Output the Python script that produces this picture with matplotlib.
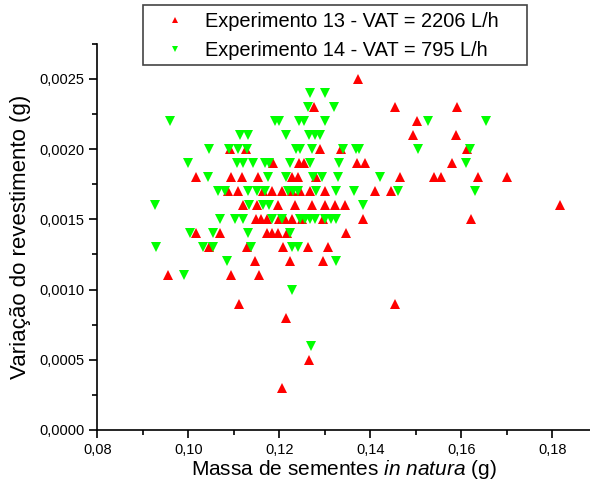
import matplotlib.pyplot as plt
from matplotlib.patches import Rectangle
from matplotlib.ticker import MultipleLocator, FuncFormatter

plt.rcParams["font.family"] = ["Liberation Sans", "DejaVu Sans"]
plt.rcParams["mathtext.fontset"] = "custom"
plt.rcParams["mathtext.rm"] = "Liberation Sans"
plt.rcParams["mathtext.it"] = "Liberation Sans:italic"

# Experimento 13 - VAT = 2206 L/h
exp13_x = [0.1374,
           0.1277, 0.1454, 0.1591,
           0.1502,
           0.1494, 0.1588,
           0.1092, 0.1127, 0.1290, 0.1335, 0.1613,
           0.1187, 0.1244, 0.1254, 0.1370, 0.1388, 0.1579,
           0.1017, 0.1093, 0.1117, 0.1154, 0.1227, 0.1240, 0.1280, 0.1465, 0.1541, 0.1555, 0.1636, 0.1701,
           0.1088, 0.1110, 0.1165, 0.1183, 0.1207, 0.1227, 0.1246, 0.1267, 0.1300, 0.1410, 0.1445,
           0.1121, 0.1150, 0.1198, 0.1234, 0.1271, 0.1300, 0.1322, 0.1344, 0.1817,
           0.1148, 0.1160, 0.1172, 0.1200, 0.1213, 0.1227, 0.1250, 0.1297, 0.1383, 0.1621,
           0.1017, 0.1070, 0.1172, 0.1185, 0.1198, 0.1218, 0.1346,
           0.1046, 0.1130, 0.1209, 0.1264, 0.1306,
           0.1147, 0.1224, 0.1297,
           0.0955, 0.1093, 0.1156,
           0.1111, 0.1454,
           0.1215,
           0.1266,
           0.1205]
exp13_y = [0.0025,
           0.0023, 0.0023, 0.0023,
           0.0022,
           0.0021, 0.0021,
           0.0020, 0.0020, 0.0020, 0.0020, 0.0020,
           0.0019, 0.0019, 0.0019, 0.0019, 0.0019, 0.0019,
           0.0018, 0.0018, 0.0018, 0.0018, 0.0018, 0.0018, 0.0018, 0.0018, 0.0018, 0.0018, 0.0018, 0.0018,
           0.0017, 0.0017, 0.0017, 0.0017, 0.0017, 0.0017, 0.0017, 0.0017, 0.0017, 0.0017, 0.0017,
           0.0016, 0.0016, 0.0016, 0.0016, 0.0016, 0.0016, 0.0016, 0.0016, 0.0016,
           0.0015, 0.0015, 0.0015, 0.0015, 0.0015, 0.0015, 0.0015, 0.0015, 0.0015, 0.0015,
           0.0014, 0.0014, 0.0014, 0.0014, 0.0014, 0.0014, 0.0014,
           0.0013, 0.0013, 0.0013, 0.0013, 0.0013,
           0.0012, 0.0012, 0.0012,
           0.0011, 0.0011, 0.0011,
           0.0009, 0.0009,
           0.0008,
           0.0005,
           0.0003]

# Experimento 14 - VAT = 795 L/h
exp14_x = [0.1267, 0.1300,
           0.1264, 0.1320,
           0.0960, 0.1190, 0.1200, 0.1244, 0.1255, 0.1300, 0.1527, 0.1654,
           0.1114, 0.1132, 0.1215, 0.1266, 0.1278, 0.1289,
           0.1045, 0.1090, 0.1110, 0.1130, 0.1237, 0.1245, 0.1271, 0.1341, 0.1369, 0.1376, 0.1504, 0.1619,
           0.1000, 0.1106, 0.1121, 0.1142, 0.1169, 0.1178, 0.1224, 0.1267, 0.1332, 0.1610,
           0.1043, 0.1176, 0.1215, 0.1275, 0.1293, 0.1328, 0.1421,
           0.1066, 0.1081, 0.1132, 0.1150, 0.1169, 0.1220, 0.1231, 0.1242, 0.1280, 0.1325, 0.1364, 0.1462, 0.1630,
           0.0927, 0.1134, 0.1165, 0.1178, 0.1385,
           0.1070, 0.1103, 0.1121, 0.1185, 0.1205, 0.1246, 0.1256, 0.1267, 0.1278, 0.1300, 0.1313, 0.1325,
           0.1004, 0.1055, 0.1132, 0.1224,
           0.0930, 0.1033, 0.1055, 0.1137, 0.1227, 0.1242,
           0.1084, 0.1325,
           0.0991,
           0.1227,
           0.1269]
exp14_y = [0.0024, 0.0024,
           0.0023, 0.0023,
           0.0022, 0.0022, 0.0022, 0.0022, 0.0022, 0.0022, 0.0022, 0.0022,
           0.0021, 0.0021, 0.0021, 0.0021, 0.0021, 0.0021,
           0.0020, 0.0020, 0.0020, 0.0020, 0.0020, 0.0020, 0.0020, 0.0020, 0.0020, 0.0020, 0.0020, 0.0020,
           0.0019, 0.0019, 0.0019, 0.0019, 0.0019, 0.0019, 0.0019, 0.0019, 0.0019, 0.0019,
           0.0018, 0.0018, 0.0018, 0.0018, 0.0018, 0.0018, 0.0018,
           0.0017, 0.0017, 0.0017, 0.0017, 0.0017, 0.0017, 0.0017, 0.0017, 0.0017, 0.0017, 0.0017, 0.0017, 0.0017,
           0.0016, 0.0016, 0.0016, 0.0016, 0.0016,
           0.0015, 0.0015, 0.0015, 0.0015, 0.0015, 0.0015, 0.0015, 0.0015, 0.0015, 0.0015, 0.0015, 0.0015,
           0.0014, 0.0014, 0.0014, 0.0014,
           0.0013, 0.0013, 0.0013, 0.0013, 0.0013, 0.0013,
           0.0012, 0.0012,
           0.0011,
           0.0010,
           0.0006]

labels = ["Experimento 13 - VAT = 2206 L/h", "Experimento 14 - VAT = 795 L/h"]

W, H = 590, 493
fig = plt.figure(figsize=(W / 100, H / 100), dpi=100)
ax = fig.add_axes([0.165, 0.128, 0.835, 0.783])

h13, = ax.plot(exp13_x, exp13_y, "^", color="#ff0000", markersize=7.5, markeredgewidth=0)
h14, = ax.plot(exp14_x, exp14_y, "v", color="#00ff00", markersize=7.5, markeredgewidth=0)

ax.set_xlim(0.08, 0.1883)
ax.set_ylim(0.0, 0.00275)
ax.xaxis.set_major_locator(MultipleLocator(0.02))
ax.xaxis.set_minor_locator(MultipleLocator(0.01))
ax.yaxis.set_major_locator(MultipleLocator(0.0005))
ax.yaxis.set_minor_locator(MultipleLocator(0.00025))
ax.xaxis.set_major_formatter(FuncFormatter(lambda v, p: f"{v:.2f}".replace(".", ",")))
ax.yaxis.set_major_formatter(FuncFormatter(lambda v, p: f"{v:.4f}".replace(".", ",")))

ax.spines["top"].set_visible(False)
ax.spines["right"].set_visible(False)
ax.spines["left"].set_linewidth(1.2)
ax.spines["bottom"].set_linewidth(1.2)
ax.tick_params(which="major", direction="out", length=6, width=1.2, labelsize=10.5)
ax.tick_params(which="minor", direction="out", length=3.5, width=1.2)

ax.set_xlabel("Massa de sementes $\\it{in\\ natura}$ (g)", fontsize=15, labelpad=1)
ax.set_ylabel("Variação do revestimento (g)", fontsize=16, labelpad=6)

# legend box drawn separately (wider than the entries, like the original)
fig.patches.append(Rectangle((143 / W, 1 - 65 / H), 384 / W, 60 / H,
                             transform=fig.transFigure, facecolor="white",
                             edgecolor="#444444", linewidth=1.2, zorder=5))
leg = fig.legend([h13, h14], labels, loc="upper left",
                 bbox_to_anchor=(165 / W, 1 - 12 / H),
                 fontsize=14.4, markerscale=0.65,
                 frameon=False, handlelength=1.0, handletextpad=1.0,
                 borderpad=0, labelspacing=0.5, borderaxespad=0)
leg.set_zorder(6)

fig.savefig("out.png", dpi=100)
